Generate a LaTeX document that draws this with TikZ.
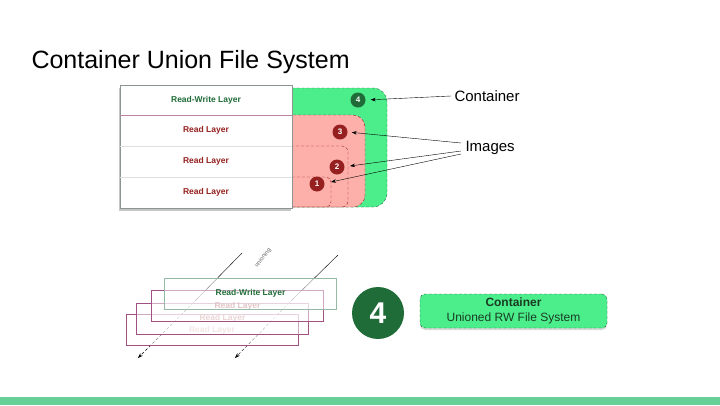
\documentclass[tikz,border=0pt]{standalone}
\usepackage{fontspec}
\setmainfont{Liberation Sans}
\usetikzlibrary{calc,arrows.meta,shadows}

\definecolor{ctgreen}{RGB}{76,238,140}
\definecolor{ctdark}{RGB}{32,108,56}
\definecolor{impink}{RGB}{253,176,170}
\definecolor{imred}{RGB}{150,32,32}
\definecolor{lyrpurple}{RGB}{160,80,130}
\definecolor{lyrgray}{RGB}{150,185,165}
\definecolor{bargreen}{RGB}{102,208,150}

\begin{document}
\begin{tikzpicture}[x=1pt, y=-1pt, >={Stealth[length=5pt,width=3.5pt]},
  num/.style={circle, fill=#1, text=white, inner sep=0pt, minimum size=15pt,
    font=\bfseries\fontsize{8}{8}\selectfont},
  rowtxt/.style={font=\bfseries\fontsize{8.5}{9}\selectfont},
  lyr/.style={draw=lyrpurple, fill=white, fill opacity=0.5, text opacity=1,
    minimum width=172, minimum height=31, inner sep=0pt,
    font=\bfseries\fontsize{8.5}{9}\selectfont},
  dsh/.style={dash pattern=on 3pt off 2pt}]

  % Frame
  \useasboundingbox (0,0) rectangle (720,405);

  % Parameters
  \def\stackL{120}    % stack left edge
  \def\stackR{292}    % stack right edge

  % Title
  \node[anchor=west, font=\fontsize{25}{25}\selectfont] (title) at (28,62)
    {Container Union File System};

  % Container and image regions behind the stack
  \draw[ctdark, dsh, fill=ctgreen, rounded corners=14pt] (200,88) rectangle (387,207);
  \draw[imred, dsh, fill=impink, rounded corners=12pt] (200,115) rectangle (365,207);
  \draw[imred, dsh, rounded corners=6pt] (200,146) rectangle (348,207);
  \draw[imred, dsh, rounded corners=5pt] (200,177) rectangle (331,207);

  % Stack of layers
  \draw[draw={rgb,255:red,140;green,150;blue,145}, fill=white,
    drop shadow={shadow xshift=-1pt, shadow yshift=-3pt, opacity=0.45}]
    (\stackL,85) rectangle (\stackR,208);
  \draw[lyrpurple!70] (\stackL,115) -- (\stackR,115);
  \draw[gray!25] (\stackL,146) -- (\stackR,146);
  \draw[gray!25] (\stackL,177) -- (\stackR,177);
  \node[rowtxt, text=ctdark] (rowrw) at (206,100) {Read-Write Layer};
  \node[rowtxt, text=imred] (rowa) at (206,130.5) {Read Layer};
  \node[rowtxt, text=imred] (rowb) at (206,161.5) {Read Layer};
  \node[rowtxt, text=imred] (rowc) at (206,192.5) {Read Layer};

  % Numbered markers
  \node[num=ctdark] (c4) at (358,100) {4};
  \node[num=imred] (c3) at (340,132) {3};
  \node[num=imred] (c2) at (337,167) {2};
  \node[num=imred] (c1) at (317,184) {1};

  % Labels and pointers
  \node[anchor=west, font=\fontsize{15}{15}\selectfont] (lblC) at (451,96) {Container};
  \node[anchor=west, font=\fontsize{15}{15}\selectfont] (lblI) at (462,148) {Images};
  \coordinate (img2) at (350,166);
  \coordinate (img1) at (331,182);
  \draw[->, shorten >=5pt] (lblC.west) -- (c4.east);
  \draw[->, shorten >=4pt] ($(lblI.west)+(-1,-5)$) -- (c3.east);
  \draw[->] ($(lblI.west)+(-1,3)$) -- (img2);
  \draw[->] ($(lblI.west)+(-1,6)$) -- (img1);

  % Unioning direction
  \coordinate (ua) at (242,253);
  \coordinate (uam) at (197,299);
  \coordinate (uae) at (138,358);
  \coordinate (ub) at (338,255);
  \coordinate (ubm) at (293,299);
  \coordinate (ube) at (235,358);
  \draw (ua) -- (uam);
  \draw[dsh, ->] (uam) -- (uae);
  \draw (ub) -- (ubm);
  \draw[dsh, ->] (ubm) -- (ube);
  \node[rotate=52, font=\fontsize{6}{6}\selectfont, text=gray!80!black] (uword)
    at (263,258) {unioning};

  % Flattened layers
  \node[lyr, text={rgb,255:red,232;green,205;blue,205}] (lyc) at (212,330) {Read Layer};
  \node[lyr, text={rgb,255:red,214;green,170;blue,170}] (lyb) at (222.5,318.5) {Read Layer};
  \node[lyr, text={rgb,255:red,196;green,140;blue,140}] (lya) at (237.5,306) {Read Layer};
  \node[lyr, draw=lyrgray, text=ctdark] (lyrw) at (250.5,293.5) {Read-Write Layer};

  % Result
  \node[circle, fill=ctdark, text=white, minimum size=52pt, inner sep=0pt,
    font=\bfseries\fontsize{30}{30}\selectfont] (big4) at (378,313) {4};
  \node[draw=ctdark, dsh, fill=ctgreen, rounded corners=5pt, minimum width=187,
    minimum height=34, align=center, text={rgb,255:red,25;green,60;blue,35},
    font=\fontsize{12}{15}\selectfont,
    drop shadow={shadow xshift=0pt, shadow yshift=-2pt, opacity=0.3}] (cbox)
    at (513.5,311) {\textbf{Container}\\Unioned RW File System};

  % Bottom bar
  \fill[bargreen] (0,397) rectangle (720,405);

\end{tikzpicture}
\end{document}
